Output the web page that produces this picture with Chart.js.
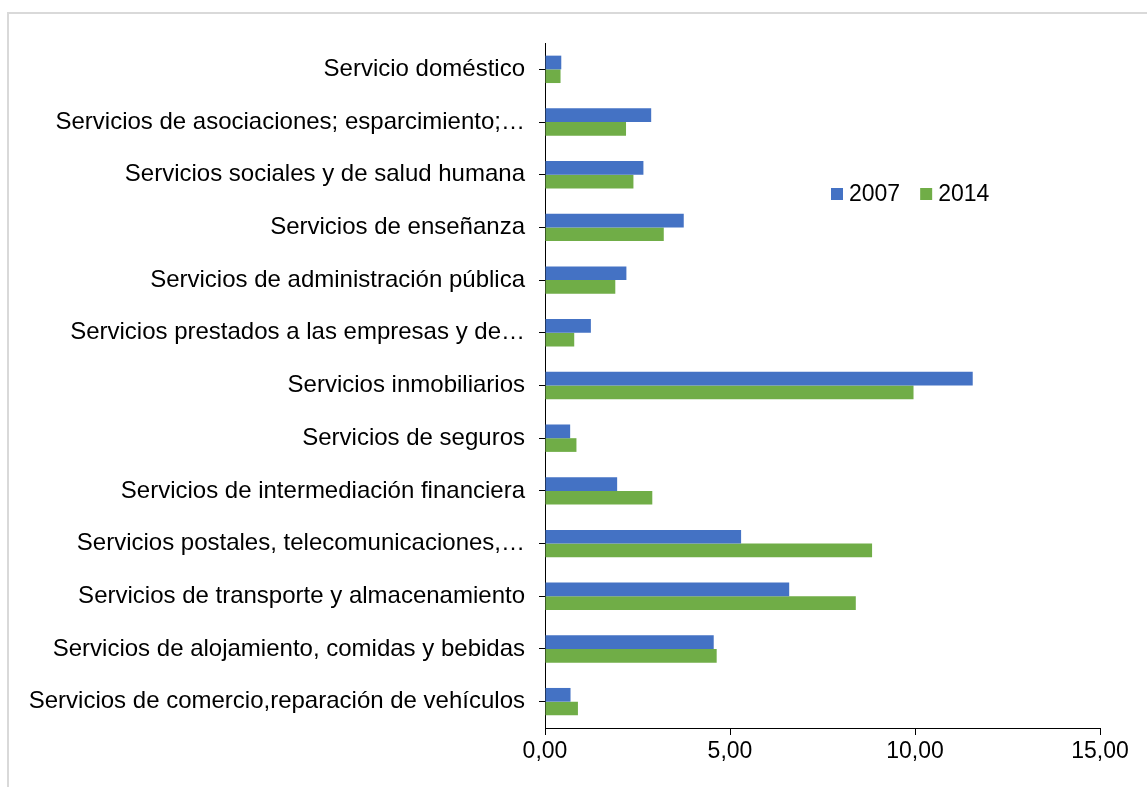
<!DOCTYPE html>
<html>
<head>
<meta charset="utf-8">
<script src="https://cdn.jsdelivr.net/npm/chart.js@4.4.1/dist/chart.umd.min.js"></script>
<style>
    body { margin: 0; background: #fff; overflow: hidden; }
    #frame { position: absolute; left: 7px; top: 12px; width: 1200px; height: 900px;
             border-top: 2px solid #d9d9d9; border-left: 2px solid #d9d9d9; }
    #chart { position: absolute; left: 0; top: 0; }
</style>
</head>
<body>
<div id="frame"></div>
<canvas id="chart" width="1147" height="787"></canvas>
<script>
// Data (top to bottom)
const categories = [
    'Servicio doméstico',
    'Servicios de asociaciones; esparcimiento;…',
    'Servicios sociales y de salud humana',
    'Servicios de enseñanza',
    'Servicios de administración pública',
    'Servicios prestados a las empresas y de…',
    'Servicios inmobiliarios',
    'Servicios de seguros',
    'Servicios de intermediación financiera',
    'Servicios postales, telecomunicaciones,…',
    'Servicios de transporte y almacenamiento',
    'Servicios de alojamiento, comidas y bebidas',
    'Servicios de comercio,reparación de vehículos'
];
const values2007 = [0.44, 2.87, 2.66, 3.75, 2.20, 1.24, 11.56, 0.68, 1.95, 5.30, 6.60, 4.56, 0.69];
const values2014 = [0.42, 2.19, 2.39, 3.21, 1.90, 0.79, 9.96, 0.85, 2.90, 8.84, 8.40, 4.64, 0.89];
const xTicks = [0, 5, 10, 15];

const FONT = 'Liberation Sans, Arial, sans-serif';

// legend drawn inside the plot area, like the original
const innerLegend = {
    id: 'innerLegend',
    afterDraw(chart) {
        const ctx = chart.ctx;
        ctx.save();
        ctx.font = '23px ' + FONT;
        ctx.textBaseline = 'middle';
        ctx.textAlign = 'left';
        let x = 831;
        const y = 194;
        chart.data.datasets.forEach(ds => {
            ctx.fillStyle = ds.backgroundColor;
            ctx.fillRect(x, y - 6, 12, 12);
            ctx.fillStyle = '#000';
            ctx.fillText(ds.label, x + 18, y + 1);
            x += 18 + ctx.measureText(ds.label).width + 20;
        });
        ctx.restore();
    }
};

new Chart(document.getElementById('chart'), {
    type: 'bar',
    data: {
        labels: categories,
        datasets: [{
            label: '2007',
            data: values2007,
            backgroundColor: '#4472C4'
        }, {
            label: '2014',
            data: values2014,
            backgroundColor: '#70AD47'
        }]
    },
    options: {
        indexAxis: 'y',
        responsive: false,
        animation: false,
        categoryPercentage: 0.52,
        barPercentage: 1,
        layout: { padding: { top: 43, right: 47, left: 0, bottom: 0 } },
        plugins: {
            legend: { display: false },
            tooltip: { enabled: false }
        },
        scales: {
            x: {
                min: 0,
                max: 15,
                afterBuildTicks: axis => { axis.ticks = xTicks.map(v => ({ value: v })); },
                afterFit: axis => { axis.height = 59; },
                grid: { drawOnChartArea: false, tickLength: 7, color: '#000' },
                border: { color: '#000', width: 1 },
                ticks: {
                    color: '#000',
                    padding: 3,
                    font: { family: FONT, size: 23 },
                    maxRotation: 0,
                    callback: v => v.toFixed(2).replace('.', ',')
                }
            },
            y: {
                afterFit: axis => { axis.width = 545; },
                grid: { drawOnChartArea: false, offset: false, tickLength: 6, color: '#000' },
                border: { color: '#000', width: 1 },
                ticks: {
                    color: '#000',
                    padding: 14,
                    autoSkip: false,
                    font: { family: FONT, size: 24 }
                }
            }
        }
    },
    plugins: [innerLegend]
});
</script>
</body>
</html>
